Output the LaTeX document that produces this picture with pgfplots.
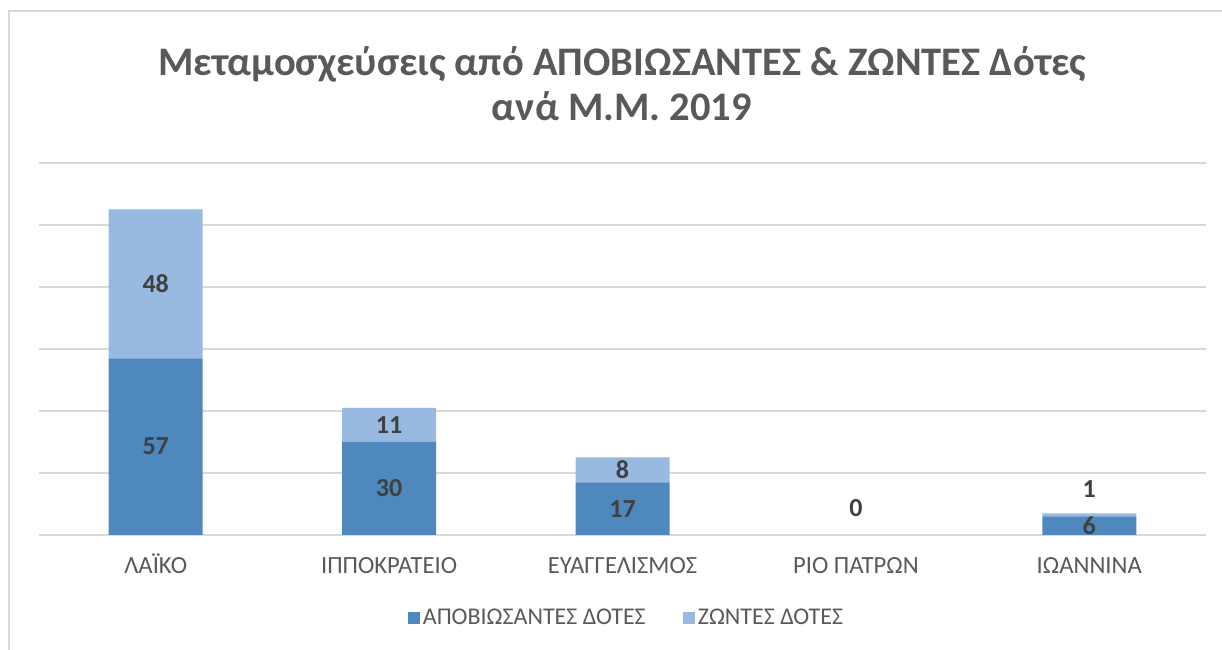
\documentclass[border=0pt]{standalone}
\usepackage{pgfplots}
\pgfplotsset{compat=1.18}
\usepackage{fontspec}
\setmainfont{Carlito}
\definecolor{darkb}{HTML}{4F88BC}
\definecolor{lightb}{HTML}{98BAE0}
\definecolor{gridc}{HTML}{D9D9D9}
\definecolor{txt}{HTML}{595959}
\definecolor{lbl}{HTML}{404040}
\begin{document}
\begin{tikzpicture}
\path[use as bounding box] (0,0) rectangle (916.5pt,487.5pt);
\draw[gridc, line width=1pt] (6.75pt,0) -- (6.75pt,479.25pt) -- (916.5pt,479.25pt);
\node[align=center, font=\fontsize{30.4}{33.75}\selectfont\bfseries, text=txt] at (466.5pt,424.5pt) {Μεταμοσχεύσεις από ΑΠΟΒΙΩΣΑΝΤΕΣ \& ΖΩΝΤΕΣ Δότες\\ανά Μ.Μ. 2019};
\begin{axis}[
 at={(29.25pt,86.25pt)}, anchor=south west, scale only axis,
 width=875.25pt, height=279pt,
 xmin=-0.5, xmax=4.5, ymin=0, ymax=120,
 ybar stacked, bar width=70.5pt,
 axis x line*=bottom, axis y line*=left,
 x axis line style={gridc, line width=1.1pt, -},
 y axis line style={draw=none},
 xtick={0,1,2,3,4},
 xticklabels={ΛΑΪΚΟ,ΙΠΠΟΚΡΑΤΕΙΟ,ΕΥΑΓΓΕΛΙΣΜΟΣ,ΡΙΟ ΠΑΤΡΩΝ,ΙΩΑΝΝΙΝΑ},
 xticklabel style={anchor=base, yshift=-29pt, font=\fontsize{18.5}{21}\selectfont, text=txt},
 major tick length=0pt,
 ytick={0,20,40,60,80,100,120}, yticklabels={},
 ymajorgrids, grid style={gridc, line width=1.1pt},
 legend style={at={(0.5,0)}, anchor=center, xshift=3.4pt, yshift=-62.25pt, draw=none, fill=none,
   legend columns=2, font=\fontsize{18}{21}\selectfont, text=txt,
   /tikz/every even column/.append style={column sep=26pt}},
 legend image code/.code={\fill[#1] (0pt,-4.5pt) rectangle (9pt,4.5pt);},
]
\addplot[fill=darkb, draw=none] coordinates {(0,57) (1,30) (2,17) (3,0) (4,6)};
\addlegendentry{ΑΠΟΒΙΩΣΑΝΤΕΣ ΔΟΤΕΣ}
\addplot[fill=lightb, draw=none] coordinates {(0,48) (1,11) (2,8) (3,0) (4,1)};
\addlegendentry{ΖΩΝΤΕΣ ΔΟΤΕΣ}
\end{axis}
\begin{axis}[
 at={(29.25pt,86.25pt)}, anchor=south west, scale only axis,
 width=875.25pt, height=279pt,
 xmin=-0.5, xmax=4.5, ymin=0, ymax=120,
 hide axis,
]
\addplot[only marks, mark=none, nodes near coords, point meta=explicit symbolic,
  nodes near coords align=center,
  every node near coord/.append style={font=\fontsize{19.5}{22}\selectfont\bfseries, text=lbl}]
  coordinates {(0,28.5)[57] (0,81)[48] (1,15)[30] (1,35.5)[11] (2,8.5)[17] (2,21)[8] (3,8.7)[0] (4,3)[6] (4,14.8)[1]};
\end{axis}
\end{tikzpicture}
\end{document}
